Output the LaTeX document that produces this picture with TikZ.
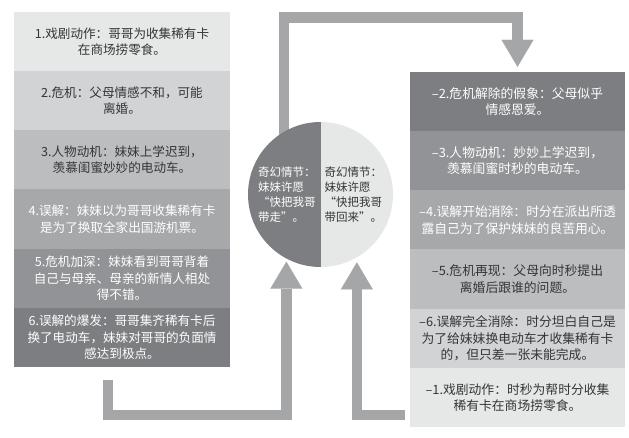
\documentclass[tikz,border=0pt]{standalone}
\usepackage{fontspec}
\setmainfont{Noto Sans CJK SC}
\usetikzlibrary{arrows.meta}
\definecolor{cA}{HTML}{E6E7E7}
\definecolor{cB}{HTML}{D2D3D4}
\definecolor{cC}{HTML}{BCBDBF}
\definecolor{cD}{HTML}{A7A8AA}
\definecolor{cE}{HTML}{929396}
\definecolor{cF}{HTML}{7D7E81}
\definecolor{arrowgray}{HTML}{A5A6A8}
\definecolor{txtdark}{HTML}{353535}
\tikzset{
  box/.style={rectangle, inner sep=0pt, minimum height=59.17pt, align=center},
  lbox/.style={box, minimum width=216pt, font=\fontsize{12.6}{16.5}\selectfont},
  rbox/.style={box, minimum width=215pt, font=\fontsize{12.8}{16.5}\selectfont},
  dtext/.style={text=txtdark},
  wtext/.style={text=white},
  band/.style={draw=arrowgray, line width=10.5pt, line join=miter, line cap=butt,
    -{Triangle[width=32pt,length=27pt,line width=0.01pt]}},
  ctext/.style={anchor=west, align=left, inner sep=0pt, font=\fontsize{11.5}{15}\selectfont},
}
\begin{document}
\begin{tikzpicture}[x=1pt,y=-1pt]
\useasboundingbox[fill=white] (0,0) rectangle (629,438);

% left column
\node[lbox, fill=cA, dtext] (L1) at (122,41.58) {1.戏剧动作：哥哥为收集稀有卡\\在商场捞零食。};
\node[lbox, fill=cB, dtext] (L2) at (122,100.75) {2.危机：父母情感不和，可能\\离婚。};
\node[lbox, fill=cC, dtext] (L3) at (122,159.92) {3.人物动机：妹妹上学迟到，\\羡慕闺蜜妙妙的电动车。};
\node[lbox, fill=cD, wtext] (L4) at (122,219.08) {4.误解：妹妹以为哥哥收集稀有卡\\是为了换取全家出国游机票。};
\node[lbox, fill=cE, wtext] (L5) at (122,278.25) {5.危机加深：妹妹看到哥哥背着\\自己与母亲、母亲的新情人相处\\得不错。};
\node[lbox, fill=cF, wtext] (L6) at (122,337.42) {6.误解的爆发：哥哥集齐稀有卡后\\换了电动车，妹妹对哥哥的负面情\\感达到极点。};

% right column
\node[rbox, fill=cF, wtext] (R1) at (517.5,101.58) {–2.危机解除的假象：父母似乎\\情感恩爱。};
\node[rbox, fill=cE, wtext] (R2) at (517.5,160.75) {–3.人物动机：妙妙上学迟到，\\羡慕闺蜜时秒的电动车。};
\node[rbox, fill=cD, wtext] (R3) at (517.5,219.92) {–4.误解开始消除：时分在派出所透\\露自己为了保护妹妹的良苦用心。};
\node[rbox, fill=cC, dtext] (R4) at (517.5,279.08) {–5.危机再现：父母向时秒提出\\离婚后跟谁的问题。};
\node[rbox, fill=cB, dtext] (R5) at (517.5,338.25) {–6.误解完全消除：时分坦白自己是\\为了给妹妹换电动车才收集稀有卡\\的，但只差一张未能完成。};
\node[rbox, fill=cA, dtext] (R6) at (517.5,397.42) {–1.戏剧动作：时秒为帮时分收集\\稀有卡在商场捞零食。};

% circle (shape only, halves filled below)
\node[circle, minimum size=145pt, inner sep=0pt] (circ) at (320.5,194.5) {};

% connectors
\coordinate (ttop) at (400,17.5);
\draw[band, shorten >=5pt] ([yshift=-12pt]circ.120) |- (ttop) -| (R1.north);
\coordinate (lstart) at (108,380);
\coordinate (lbend) at (200,415);
\draw[band, shorten >=3pt] (lstart) |- (lbend) -| (circ.242.5);
\coordinate (rstart) at (405,415);
\draw[band, shorten >=5pt] (rstart) -| (circ.300);

% circle halves
\begin{scope}
  \clip (320.5,194.5) circle[radius=72.5];
  \fill[cF] (247,121) rectangle (320.5,268);
  \fill[cA] (320.5,121) rectangle (394,268);
\end{scope}
\node[ctext, text=white] (cl) at (258,194.5) {奇幻情节：\\妹妹许愿\\“快把我哥\\带走”。};
\node[ctext, text=txtdark] (cr) at (324.5,194.5) {奇幻情节：\\妹妹许愿\\“快把我哥\\带回来”。};
\end{tikzpicture}
\end{document}
